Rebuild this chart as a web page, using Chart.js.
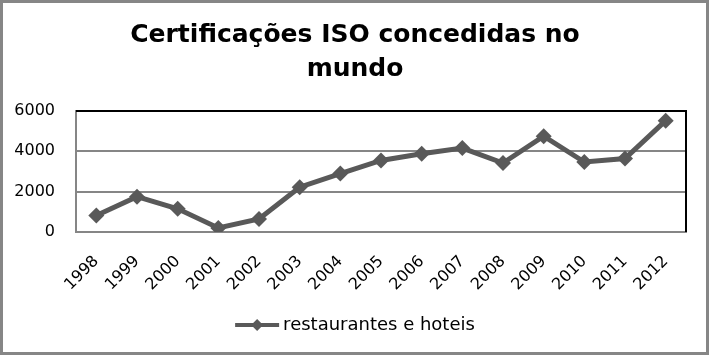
<!DOCTYPE html>
<html>
<head>
<meta charset="utf-8">
<script src="https://cdn.jsdelivr.net/npm/chart.js@4/dist/chart.umd.min.js"></script>
<style>
  html, body { margin: 0; padding: 0; background: #ffffff; }
  #wrap { width: 710px; height: 357px; }
</style>
</head>
<body>
<div id="wrap"><canvas id="isoChart" width="710" height="357"></canvas></div>
<script>
// chart data
const chartTitle = ['Certificações ISO concedidas no', 'mundo'];
const years = ['1998', '1999', '2000', '2001', '2002', '2003', '2004', '2005',
               '2006', '2007', '2008', '2009', '2010', '2011', '2012'];
const seriesName = 'restaurantes e hoteis';
const certificacoes = [820, 1750, 1150, 200, 650, 2220, 2900, 3550,
                       3880, 4160, 3420, 4750, 3470, 3640, 5520];
const yTicks = [0, 2000, 4000, 6000];

const lineGrey = '#595959';
const axisGrey = '#868686';

// white background, outer frame, black top/right border of the plot area
const framePlugin = {
    id: 'frame',
    beforeDraw(chart) {
        const ctx = chart.ctx;
        ctx.save();
        ctx.fillStyle = '#ffffff';
        ctx.fillRect(0, 0, chart.width, chart.height);
        ctx.strokeStyle = axisGrey;
        ctx.lineWidth = 3;
        ctx.strokeRect(1.5, 1.5, 706, 352);
        ctx.restore();
    },
    beforeDatasetsDraw(chart) {
        const ctx = chart.ctx;
        const a = chart.chartArea;
        ctx.save();
        ctx.strokeStyle = '#000000';
        ctx.lineWidth = 2;
        ctx.beginPath();
        ctx.moveTo(a.left, a.top);
        ctx.lineTo(a.right, a.top);
        ctx.lineTo(a.right, a.bottom);
        ctx.stroke();
        ctx.restore();
    },
    afterDraw(chart) {
        // legend symbol: line with a diamond, like the series
        const legend = chart.legend;
        if (!legend || !legend.legendHitBoxes.length) return;
        const box = legend.legendHitBoxes[0];
        const ctx = chart.ctx;
        const y = box.top + box.height / 2;
        const x0 = box.left;
        const x1 = box.left + 44;
        ctx.save();
        ctx.strokeStyle = lineGrey;
        ctx.lineWidth = 4;
        ctx.beginPath();
        ctx.moveTo(x0, y);
        ctx.lineTo(x1, y);
        ctx.stroke();
        const cx = (x0 + x1) / 2;
        const r = 6;
        ctx.fillStyle = lineGrey;
        ctx.beginPath();
        ctx.moveTo(cx, y - r);
        ctx.lineTo(cx + r, y);
        ctx.lineTo(cx, y + r);
        ctx.lineTo(cx - r, y);
        ctx.closePath();
        ctx.fill();
        ctx.restore();
    }
};

function createChart() {
    const ctx = document.getElementById('isoChart').getContext('2d');
    new Chart(ctx, {
        type: 'line',
        data: {
            labels: years,
            datasets: [{
                label: seriesName,
                data: certificacoes,
                borderColor: lineGrey,
                backgroundColor: lineGrey,
                borderWidth: 5,
                fill: false,
                tension: 0,
                pointStyle: 'rectRot',
                pointRadius: 8,
                pointBorderWidth: 0,
                pointBackgroundColor: lineGrey
            }]
        },
        options: {
            responsive: false,
            animation: false,
            layout: { padding: { top: 3, left: 3, right: 3, bottom: 13 } },
            plugins: {
                title: {
                    display: true,
                    text: chartTitle,
                    color: '#000000',
                    font: { family: 'DejaVu Sans', size: 25, weight: 'bold', lineHeight: 1.36 },
                    padding: { top: 15, bottom: 25 }
                },
                legend: {
                    position: 'bottom',
                    labels: {
                        color: '#000000',
                        font: { family: 'DejaVu Sans', size: 18 },
                        boxWidth: 39,
                        boxHeight: 18,
                        padding: 10,
                        generateLabels: (chart) => [{
                            text: seriesName,
                            fillStyle: 'rgba(0,0,0,0)',
                            strokeStyle: 'rgba(0,0,0,0)',
                            lineWidth: 0,
                            datasetIndex: 0
                        }]
                    }
                },
                tooltip: { enabled: false }
            },
            scales: {
                x: {
                    offset: true,
                    grid: { display: false, drawTicks: false },
                    border: { display: true, color: axisGrey, width: 2 },
                    ticks: {
                        color: '#000000',
                        font: { family: 'DejaVu Sans', size: 16 },
                        minRotation: 45,
                        maxRotation: 45,
                        padding: 20,
                        autoSkip: false
                    },
                    afterFit: (scale) => { scale.height = 74; }
                },
                y: {
                    min: 0,
                    max: 6000,
                    afterBuildTicks: (scale) => { scale.ticks = yTicks.map(v => ({ value: v })); },
                    grid: {
                        drawTicks: false,
                        lineWidth: 2,
                        color: (c) => (c.tick && c.tick.value === 6000 ? '#000000' : axisGrey)
                    },
                    border: { display: true, color: axisGrey, width: 2 },
                    ticks: {
                        color: '#000000',
                        font: { family: 'DejaVu Sans', size: 16 },
                        padding: 21,
                        callback: (value) => String(value)
                    },
                    afterFit: (scale) => { scale.width = 73; }
                },
                // empty right-hand axis, only keeps the white margin right of the plot
                yRight: {
                    position: 'right',
                    min: 0,
                    max: 6000,
                    grid: { display: false, drawTicks: false },
                    border: { display: false },
                    ticks: { display: false },
                    afterFit: (scale) => { scale.width = 21; }
                }
            }
        },
        plugins: [framePlugin]
    });
}

document.addEventListener('DOMContentLoaded', createChart);
</script>
</body>
</html>
